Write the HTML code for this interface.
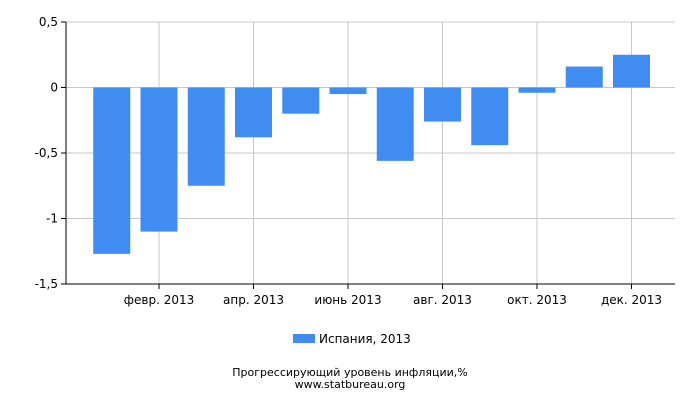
<!DOCTYPE html>
<html><head><meta charset="utf-8"><style>
body{margin:0;background:#fff;font-family:"Liberation Sans","DejaVu Sans",sans-serif;}
svg text{font-family:"DejaVu Sans","Liberation Sans",sans-serif;}
</style></head><body>
<svg id="chart" width="700" height="400" xmlns="http://www.w3.org/2000/svg">
<g id="grid"></g>
<g id="bars"></g>
<g id="axes"></g>
<g>
<rect x="293" y="334" width="22" height="9" fill="#418cf0"/>
<text x="319" y="343" font-size="12" fill="#000">Испания, 2013</text>
</g>
<text x="350" y="376" font-size="11" text-anchor="middle" fill="#000">Прогрессирующий уровень инфляции,%</text>
<text x="350" y="388" font-size="11" text-anchor="middle" fill="#000">www.statbureau.org</text>
</svg>
<script>
const months = ["янв. 2013","февр. 2013","март 2013","апр. 2013","май 2013","июнь 2013","июль 2013","авг. 2013","сент. 2013","окт. 2013","нояб. 2013","дек. 2013"];
const values = [-1.27,-1.10,-0.75,-0.38,-0.20,-0.05,-0.56,-0.26,-0.44,-0.04,0.16,0.25];
const yTicks = [0.5,0,-0.5,-1,-1.5];
const yTickLabels = ["0,5","0","-0,5","-1","-1,5"];
const NS="http://www.w3.org/2000/svg";
const plotLeft=66,plotRight=675,plotTop=22,plotBottom=284,yMax=0.5,yMin=-1.5;
const yScale=v=>plotTop+(yMax-v)/(yMax-yMin)*(plotBottom-plotTop);
const step=47.25;
const xc=i=>111.75+i*step;
function mk(tag,attrs,parent){const e=document.createElementNS(NS,tag);for(const k in attrs)e.setAttribute(k,attrs[k]);parent.appendChild(e);return e;}
const grid=document.getElementById('grid'),bars=document.getElementById('bars'),axes=document.getElementById('axes');
yTicks.forEach((t,i)=>{
  const l=mk('line',{x1:plotLeft,x2:plotRight,y1:yScale(t),y2:yScale(t),stroke:'#c8c8c8','stroke-width':1},grid);
  
  
  const tk=mk('line',{x1:plotLeft-5,x2:plotLeft,y1:yScale(t),y2:yScale(t),stroke:'#000'},axes);
  
  
  const tx=mk('text',{x:plotLeft-8,y:yScale(t)+4,'font-size':12,'text-anchor':'end',fill:'#000'},axes);
  tx.textContent=yTickLabels[i];
  
  
});
months.forEach((m,i)=>{
  if(i%2===1){
    const g=mk('line',{x1:xc(i),x2:xc(i),y1:plotTop,y2:plotBottom,stroke:'#c8c8c8'},grid);
    
    
    const tk=mk('line',{x1:xc(i),x2:xc(i),y1:plotBottom,y2:plotBottom+5,stroke:'#000'},axes);
    
    
    const tx=mk('text',{x:xc(i),y:plotBottom+20,'font-size':12,'text-anchor':'middle',fill:'#000'},axes);
    tx.textContent=m;
    
    
  }
  const v=values[i];
  const r=mk('rect',{x:xc(i)-18.5,width:37,y:Math.min(yScale(v),yScale(0)),height:Math.abs(yScale(v)-yScale(0)),fill:'#418cf0'},bars);
  
  
});
const ya=mk('line',{x1:plotLeft,x2:plotLeft,y1:plotTop,y2:plotBottom,stroke:'#000'},axes);


const xa=mk('line',{x1:plotLeft,x2:plotRight,y1:plotBottom,y2:plotBottom,stroke:'#000'},axes);


</script>
</body></html>
